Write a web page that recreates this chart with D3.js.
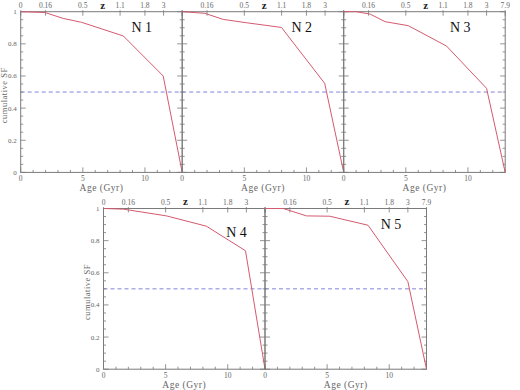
<!DOCTYPE html>
<html><head><meta charset="utf-8">
<script src="https://cdn.jsdelivr.net/npm/d3@7"></script>
<style>body{margin:0;background:#fff}svg{display:block}</style>
</head><body>
<svg id="c" width="520" height="390"></svg>
<script>
// ---- data ----
const panelNames = ["N 1", "N 2", "N 3", "N 4", "N 5"];
const ages1 = [0, 1.95, 3.43, 4.9, 8.26, 11.47, 13];
const sf1   = [1, 0.995, 0.958, 0.934, 0.849, 0.600, 0];
const ages2 = [0, 1.82, 3.3, 5.2, 7.99, 11.47, 13];
const sf2   = [1, 0.99, 0.952, 0.931, 0.902, 0.554, 0];
const ages3 = [0, 1.0, 2.13, 3.33, 5.2, 8.28, 11.5, 13];
const sf3   = [1, 1, 0.985, 0.938, 0.913, 0.786, 0.523, 0];
const ages4 = [0, 1.6, 5.07, 8.28, 11.43, 13];
const sf4   = [1, 0.996, 0.954, 0.89, 0.737, 0];
const ages5 = [0, 1.47, 3.34, 5.21, 8.29, 11.5, 13];
const sf5   = [1, 1, 0.954, 0.952, 0.896, 0.545, 0];
const halfLevel = 0.5;
const xTicks = [0, 5, 10];
const yTicks = [0, 0.2, 0.4, 0.6, 0.8, 1];
const yTickLabels = ["0", "0.2", "0.4", "0.6", "0.8", "1"];
const zLabels = ["0", "0.16", "0.5", "1.1", "1.8", "3", "7.9"];
const zAges   = [0, 2, 5, 8, 10, 11.5, 13];
const xLabel = "Age (Gyr)";
const yLabel = "cumulative SF";
const zTitle = "z";

const series = [[ages1, sf1], [ages2, sf2], [ages3, sf3], [ages4, sf4], [ages5, sf5]];

// ---- layout ----
const W = 161.5, H = 160.7;
const layout = [
  {x: 20.7,  y: 11.7,  first: true,  last: false, nx: 121, ny: 15},
  {x: 182.2, y: 11.7,  first: false, last: false, nx: 119.5, ny: 15},
  {x: 343.7, y: 11.7,  first: false, last: true,  nx: 116.5, ny: 15},
  {x: 103.5, y: 208.5, first: true,  last: false, nx: 133, ny: 23},
  {x: 265.0, y: 208.5, first: false, last: true,  nx: 126, ny: 15}
];

const svg = d3.select("#c");
const serif = "'Liberation Serif','DejaVu Serif',serif";
const axisCol = "#7a7a7a", textCol = "#666";
const curveCol = "#d45a6e", dashCol = "#7474d8";

series.forEach(([ages, sf], i) => {
  const L = layout[i];
  const g = svg.append("g").attr("transform", `translate(${L.x},${L.y})`);
  const x = d3.scaleLinear().domain([0, 13]).range([0, W]);
  const y = d3.scaleLinear().domain([0, 1]).range([H, 0]);

  g.append("line").attr("x1", 0).attr("x2", W).attr("y1", y(halfLevel)).attr("y2", y(halfLevel))
    .attr("stroke", dashCol).attr("stroke-width", 0.9).attr("stroke-dasharray", "4,3");

  g.append("rect").attr("x", 0).attr("y", 0).attr("width", W).attr("height", H)
    .attr("fill", "none").attr("stroke", axisCol).attr("stroke-width", 1);

  const yMinor = d3.range(0, 1.0001, 0.05);
  yMinor.forEach(v => {
    const major = Math.abs(v * 5 - Math.round(v * 5)) < 1e-6;
    const len = major ? 5 : 2.5;
    g.append("line").attr("x1", 0).attr("x2", len).attr("y1", y(v)).attr("y2", y(v))
      .attr("stroke", axisCol).attr("stroke-width", 0.8);
    g.append("line").attr("x1", W).attr("x2", W - len).attr("y1", y(v)).attr("y2", y(v))
      .attr("stroke", axisCol).attr("stroke-width", 0.8);
  });
  d3.range(0, 13.001, 1).forEach(v => {
    const major = v % 5 === 0;
    const len = major ? 5 : 2.5;
    g.append("line").attr("x1", x(v)).attr("x2", x(v)).attr("y1", H).attr("y2", H - len)
      .attr("stroke", axisCol).attr("stroke-width", 0.8);
  });
  zAges.forEach(a => {
    g.append("line").attr("x1", x(a)).attr("x2", x(a)).attr("y1", -1.5).attr("y2", 4)
      .attr("stroke", axisCol).attr("stroke-width", 0.8);
  });

  const pts = ages.map((a, k) => [a, sf[k]]);
  g.append("path").datum(pts)
    .attr("d", d3.line().x(d => x(d[0])).y(d => y(d[1])))
    .attr("fill", "none").attr("stroke", curveCol).attr("stroke-width", 1);

  xTicks.forEach(t => {
    g.append("text").attr("x", x(t)).attr("y", H + 9).attr("text-anchor", "middle")
      .attr("font-family", serif).attr("font-size", 7.5).attr("fill", textCol).text(t);
  });
  g.append("text").attr("x", W / 2).attr("y", H + 19).attr("text-anchor", "middle")
    .attr("font-family", serif).attr("font-size", 9.5).attr("fill", textCol)
    .attr("letter-spacing", 0.5).text(xLabel);

  zAges.forEach((a, k) => {
    if (k === 0 && !L.first) return;
    if (k === zAges.length - 1 && !L.last) return;
    g.append("text").attr("x", x(a)).attr("y", -4).attr("text-anchor", "middle")
      .attr("font-family", serif).attr("font-size", 7.5).attr("fill", textCol).text(zLabels[k]);
  });
  g.append("text").attr("x", 82).attr("y", -3.2).attr("text-anchor", "middle")
    .attr("font-family", serif).attr("font-size", 11).attr("font-weight", "bold")
    .attr("fill", "#222").text(zTitle);

  if (L.first) {
    yTicks.forEach((t, k) => {
      g.append("text").attr("x", -4).attr("y", y(t) + 2.5).attr("text-anchor", "end")
        .attr("font-family", serif).attr("font-size", 7).attr("fill", textCol).text(yTickLabels[k]);
    });
    g.append("text").attr("transform", `translate(-14,${H * 0.52}) rotate(-90)`)
      .attr("text-anchor", "middle").attr("font-family", serif).attr("font-size", 8.5)
      .attr("fill", textCol).attr("letter-spacing", 0.5).text(yLabel);
  }

  g.append("text").attr("x", L.nx).attr("y", L.ny + 5).attr("text-anchor", "middle")
    .attr("font-family", serif).attr("font-size", 14).attr("fill", "#111").text(panelNames[i]);
});
</script>
</body></html>
